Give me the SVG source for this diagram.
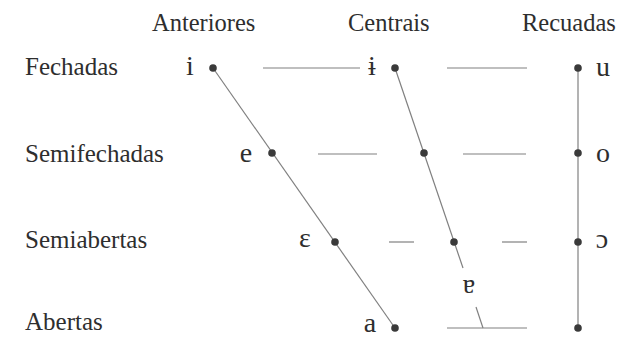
<svg xmlns="http://www.w3.org/2000/svg" width="627" height="338" viewBox="0 0 627 338">
<style>
text{font-family:"Liberation Serif","DejaVu Serif",serif;font-size:25px;fill:#2e2e2e}
.h{font-size:24.5px}
.v{text-anchor:middle;font-size:28px}
.dot{fill:#3a3a3a}
.ln{stroke:#808080;stroke-width:1.2;fill:none}
</style>
<rect width="627" height="338" fill="#ffffff"/>
<g id="headers">
<text class="h" x="152" y="31">Anteriores</text>
<text class="h" x="348" y="31">Centrais</text>
<text class="h" x="522" y="31">Recuadas</text>
<text x="25" y="75">Fechadas</text>
<text x="25" y="162">Semifechadas</text>
<text x="25" y="248">Semiabertas</text>
<text x="25" y="330">Abertas</text>
</g>
<g id="connectors">
<line class="ln" x1="213" y1="68" x2="395" y2="328"/>
<line class="ln" x1="395" y1="68" x2="463" y2="268"/>
<line class="ln" x1="476" y1="307" x2="483" y2="328"/>
<line class="ln" x1="578" y1="68" x2="578" y2="328"/>
<line class="ln" x1="263" y1="68" x2="360" y2="68"/>
<line class="ln" x1="447" y1="68" x2="527" y2="68"/>
<line class="ln" x1="318" y1="154" x2="377" y2="154"/>
<line class="ln" x1="463" y1="154" x2="526" y2="154"/>
<line class="ln" x1="389" y1="242" x2="414" y2="242"/>
<line class="ln" x1="502" y1="242" x2="527" y2="242"/>
<line class="ln" x1="447" y1="328" x2="527" y2="328"/>
</g>
<g id="v-i"><circle class="dot" cx="213" cy="68" r="3.8"/><text class="v" x="190" y="75">i</text></g>
<g id="v-barred-i"><circle class="dot" cx="395" cy="68" r="3.8"/><text class="v" x="372" y="75">ɨ</text></g>
<g id="v-u"><circle class="dot" cx="578" cy="68" r="3.8"/><text class="v" x="603" y="76">u</text></g>
<g id="v-e"><circle class="dot" cx="272" cy="153" r="3.8"/><text class="v" x="246" y="162">e</text></g>
<g id="v-central-mid-high"><circle class="dot" cx="424" cy="153" r="3.8"/></g>
<g id="v-o"><circle class="dot" cx="578" cy="153" r="3.8"/><text class="v" x="603" y="162">o</text></g>
<g id="v-epsilon"><circle class="dot" cx="335" cy="242" r="3.8"/><text class="v" x="305" y="247">ɛ</text></g>
<g id="v-central-mid-low"><circle class="dot" cx="454" cy="242" r="3.8"/></g>
<g id="v-open-o"><circle class="dot" cx="578" cy="242" r="3.8"/><text class="v" x="602" y="248">ɔ</text></g>
<g id="v-turned-a"><text class="v" x="469" y="293">ɐ</text></g>
<g id="v-a"><circle class="dot" cx="395" cy="328" r="3.8"/><text class="v" x="370" y="332">a</text></g>
<g id="v-back-open"><circle class="dot" cx="578" cy="328" r="3.8"/></g>
</svg>
